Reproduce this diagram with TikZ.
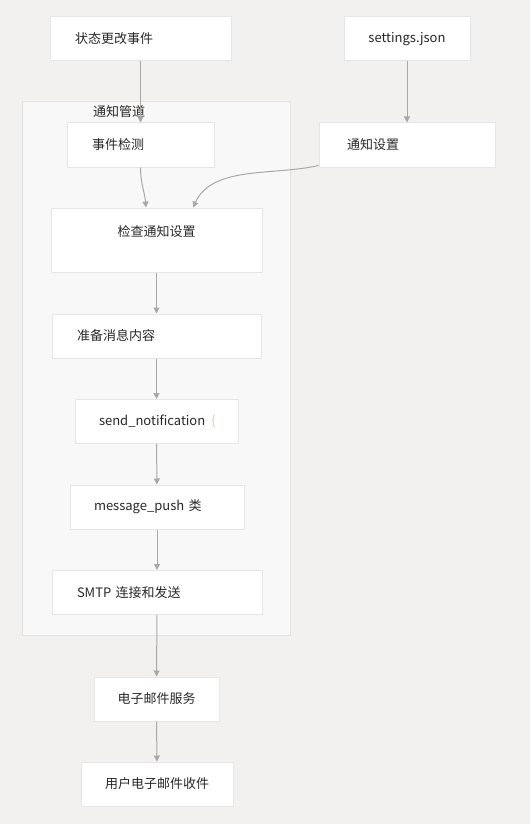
\documentclass[tikz,border=0pt]{standalone}
\usepackage{fontspec}
\setmainfont{Noto Sans CJK SC}
\usetikzlibrary{arrows.meta, positioning}
\definecolor{bgcol}{RGB}{242,241,239}
\definecolor{clusterfill}{RGB}{248,248,248}
\definecolor{clusterline}{RGB}{226,226,226}
\definecolor{boxline}{RGB}{230,230,230}
\definecolor{edgecol}{RGB}{168,168,168}
\definecolor{textcol}{RGB}{40,40,40}
\definecolor{cutcol}{RGB}{225,205,170}
\tikzset{
  box/.style = {draw=boxline, line width=1pt, fill=white, minimum height=44pt,
    inner xsep=0pt, inner ysep=0pt, align=left, text=textcol,
    font=\fontsize{13}{16}\selectfont},
  cluster/.style = {draw=clusterline, line width=1pt, fill=clusterfill, inner sep=0pt},
  flow/.style = {draw=edgecol, line width=1pt, -{Triangle[length=6pt,width=6pt]}}
}

\begin{document}
\begin{tikzpicture}[x=1pt, y=-1pt]
\useasboundingbox [fill=bgcol] (0,0) rectangle (530,824);
% the pipeline group
\node [cluster, minimum width=268pt, minimum height=533pt] (pipe) at (156,368.5) {};
\node [text=textcol, font=\fontsize{13}{16}\selectfont] (pipelabel) at (119,112) {通知管道};
% boxes
\node [box, minimum width=181pt, text width=131pt] (state) at (140.5,39) {状态更改事件};
\node [box, minimum width=126pt, text width=126pt, align=center] (json) at (407,39) {settings.json};
\node [box, minimum width=147pt, text width=97pt] (detect) at (140.5,145) {事件检测};
\node [box, minimum width=176pt, text width=120pt] (notify) at (407,145) {通知设置};
\node [box, minimum width=211pt, minimum height=64pt, text width=211pt, align=center] (check) at (156.5,240) {检查通知设置\\[2pt]~};
\node [box, minimum width=209pt, text width=159pt] (prepare) at (156.5,336) {准备消息内容};
\node [box, minimum width=163pt, text width=115pt] (send) at (156.5,421.5) {\mbox{send\_notification\hspace{6pt}\textcolor{cutcol}{(}}};
\node [box, minimum width=174pt, text width=126pt] (push) at (157,507) {message\_push 类};
\node [box, minimum width=210pt, text width=160pt] (smtp) at (157,592.5) {SMTP 连接和发送};
\node [box, minimum width=125pt, text width=125pt, align=center] (mail) at (156.5,699) {电子邮件服务};
\node [box, minimum width=152pt, text width=152pt, align=center] (user) at (157,784) {用户电子邮件收件};
% connectors
\draw [flow] (state) -- (detect);
\draw [flow] (json) -- (notify);
\draw [flow] (detect.south) to [out=-90, in=95] ([xshift=-10.5pt]check.north);
\draw [flow] ([yshift=2pt]notify.south west) to [out=193, in=65, looseness=0.9] ([xshift=36.5pt]check.north);
\draw [flow] (check) -- (prepare);
\draw [flow] (prepare) -- (send);
\draw [flow] (send) -- (push);
\draw [flow] (push) -- (smtp);
\draw [flow] (smtp) -- (mail);
\draw [flow] (mail) -- (user);
\end{tikzpicture}
\end{document}
